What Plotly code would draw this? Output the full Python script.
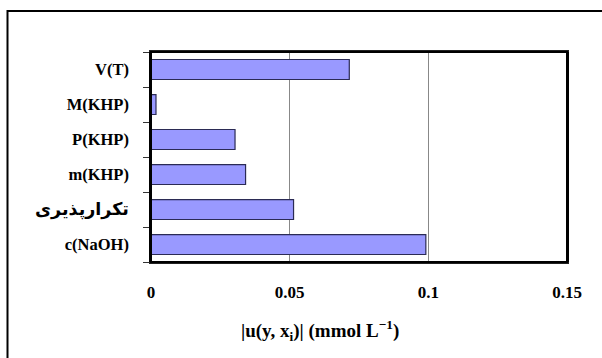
import plotly.graph_objects as go

categories = ["V(T)", "M(KHP)", "P(KHP)", "m(KHP)", "تکرارپذیری", "c(NaOH)"]
values = [0.0715, 0.0018, 0.0303, 0.0341, 0.0514, 0.0991]
x_ticks = [0, 0.05, 0.1, 0.15]
x_ticklabels = ["0", "0.05", "0.1", "0.15"]

SERIF = "Times New Roman, Liberation Serif, DejaVu Serif, serif"

ticktext = []
for c in categories:
    if c == "تکرارپذیری":
        ticktext.append('<span style="font-family:DejaVu Sans;font-size:17.5px">' + c + '</span>')
    else:
        ticktext.append(c)

fig = go.Figure()
fig.add_trace(go.Bar(
    x=values, y=categories, orientation="h",
    marker=dict(color="#9999FF", line=dict(color="#2b2b55", width=1.2)),
    showlegend=False, hoverinfo="skip",
))

L, R, T, B = 151, 35, 52, 96
W, H = 602, 358
pw, ph = W - L - R, H - T - B

fig.update_layout(
    width=W, height=H,
    margin=dict(l=L, r=R, t=T, b=B, autoexpand=False),
    paper_bgcolor="white", plot_bgcolor="white",
    bargap=0.43,
    font=dict(family=SERIF, size=16, color="black"),
    xaxis=dict(
        range=[0, 0.15], tickvals=x_ticks, ticktext=["<b>%s</b>" % t for t in x_ticklabels],
        showgrid=True, gridcolor="#888888", gridwidth=1,
        zeroline=False, showline=True, mirror=True, linecolor="#222222", linewidth=1.5,
        ticks="", ticklabelstandoff=14, automargin=False,
        tickfont=dict(family=SERIF, size=17, color="black"),
    ),
    yaxis=dict(
        categoryorder="array", categoryarray=categories,
        autorange="reversed", automargin=False,
        tickvals=categories, ticktext=["<b>%s</b>" % t for t in ticktext],
        showgrid=False, zeroline=False,
        showline=True, mirror=True, linecolor="black", linewidth=1.5,
        ticks="outside", tickson="boundaries", ticklen=6, tickcolor="#333333",
        ticklabelstandoff=17,
        tickfont=dict(family=SERIF, size=16.5, color="black"),
    ),
)

# frame of the plot area (top and right edges are black in the reference)
fig.add_shape(type="rect", xref="paper", yref="paper", layer="above",
              x0=0, x1=1, y0=0, y1=1,
              line=dict(color="black", width=2), fillcolor="rgba(0,0,0,0)")

# outer chart border (right and bottom edges lie outside the image)
fig.add_shape(type="rect", xref="paper", yref="paper",
              x0=(7.5 - L) / pw, x1=(W + 10 - L) / pw,
              y0=(ph - (H + 10 - T)) / ph, y1=(ph - (11 - T)) / ph,
              line=dict(color="black", width=2), fillcolor="rgba(0,0,0,0)")

fig.add_annotation(
    xref="paper", yref="paper",
    x=(320 - L) / pw, y=(ph - (330 - T)) / ph,
    text="<b>|u(y, x<sub>i</sub>)| (mmol L<sup>−1</sup>)</b>",
    showarrow=False, xanchor="center", yanchor="middle",
    font=dict(family=SERIF, size=19, color="black"),
)

fig.write_html("out.html", config={"displayModeBar": False},
               post_script="document.body.style.margin='0';document.body.style.padding='0';")
